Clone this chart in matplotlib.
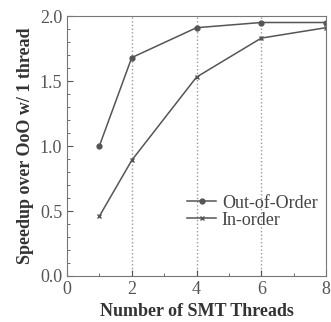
import matplotlib
matplotlib.use('Agg')
import matplotlib.pyplot as plt
from matplotlib.ticker import MultipleLocator

threads = [1, 2, 4, 6, 8]
ooo = [1.00, 1.68, 1.91, 1.95, 1.95]
inorder = [0.46, 0.89, 1.53, 1.83, 1.91]

plt.rcParams['font.family'] = ['Liberation Serif', 'DejaVu Serif']

fig = plt.figure(figsize=(3.31, 3.22), dpi=100)
ax = fig.add_axes([67 / 331, 46 / 322, 259 / 331, 260 / 322])

col = '#555555'
for x in [2, 4, 6]:
    ax.axvline(x, color='#999999', ls=':', lw=1.0, zorder=0)

ax.plot(threads, ooo, color=col, lw=1.1, marker='o', ms=3.5, label='Out-of-Order')
ax.plot(threads, inorder, color=col, lw=1.1, marker='x', ms=3.5, mew=1.0, label='In-order')

ax.set_xlim(0, 8)
ax.set_ylim(0, 2.0)
ax.xaxis.set_major_locator(MultipleLocator(2))
ax.xaxis.set_minor_locator(MultipleLocator(1))
ax.yaxis.set_major_locator(MultipleLocator(0.5))
ax.yaxis.set_minor_locator(MultipleLocator(0.1))
ax.yaxis.set_major_formatter(matplotlib.ticker.FormatStrFormatter('%.1f'))
ax.tick_params(which='both', direction='in', colors=col, labelcolor='#555555', labelsize=13)
ax.tick_params(which='major', length=4)
ax.tick_params(which='minor', length=2)
for s in ax.spines.values():
    s.set_color('#777777')

ax.set_xlabel('Number of SMT Threads', fontsize=13, fontweight='bold', color='#333333')
ax.set_ylabel('Speedup over OoO w/ 1 thread', fontsize=13, fontweight='bold', color='#333333')

ax.legend(loc='lower right', bbox_to_anchor=(1.03, 0.12), frameon=False, fontsize=13,
          handlelength=1.6, handletextpad=0.3, labelspacing=0.0, labelcolor='#444444')

fig.savefig('out.png', dpi=100)
